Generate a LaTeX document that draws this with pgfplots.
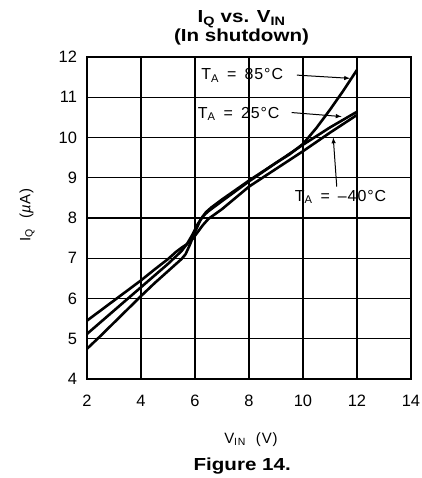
\documentclass[border=0pt]{standalone}
\usepackage{pgfplots}
\pgfplotsset{compat=1.18}
\usepackage{fontspec}
\setmainfont{Liberation Sans}
\newfontfamily\titlefont[FakeStretch=1.18]{Liberation Sans Bold}
\newfontfamily\annfont[LetterSpace=6]{Liberation Sans}
\begin{document}
\begin{tikzpicture}
\begin{axis}[
  scale only axis, width=324bp, height=322bp,
  xmin=2, xmax=14, ymin=4, ymax=12,
  xtick={2,4,...,14}, ytick={4,5,...,12},
  grid=major, major grid style={black, line width=1.2bp},
  axis line style={line width=1.3bp},
  major tick length=0pt,
  /pgf/number format/assume math mode=true,
  tick label style={font=\fontsize{16.5}{18}\selectfont},
  xticklabel style={yshift=-13bp},
  yticklabel style={xshift=-6.5bp},
  xlabel={V\textsubscript{IN}\ \ (V)},
  xlabel style={at={(axis description cs:0.506,0)}, anchor=base, yshift=-64bp, inner sep=0pt, font=\annfont\fontsize{15}{18}\selectfont},
  ylabel={I\textsubscript{Q}\ \ (\textit{µ}A)},
  ylabel style={at={(axis description cs:-0.185,0.509)}, anchor=center, inner sep=0pt, font=\annfont\fontsize{15}{18}\selectfont},
  every axis title shift=0pt,
  title={I\textsubscript{Q} vs. V\textsubscript{IN}\\(In shutdown)},
  title style={at={(axis description cs:0.477,1)}, anchor=south, yshift=12bp, inner sep=0pt, align=center, font=\titlefont\fontsize{17.5}{16}\selectfont},
  clip=false,
]
% T_A = 85 C
\addplot[black, line width=2.6bp] table {
2 4.75
2.5 5.07
3 5.40
3.5 5.73
4 6.06
4.5 6.38
5 6.68
5.3 6.86
5.5 6.98
5.65 7.10
5.8 7.32
6.0 7.65
6.2 7.95
6.4 8.14
6.6 8.26
7 8.46
8 8.93
9 9.37
9.5 9.58
10 9.84
10.5 10.24
11 10.69
11.5 11.17
12 11.68
};
% T_A = 25 C
\addplot[black, line width=2.6bp] table {
2 5.12
2.5 5.41
3 5.70
3.5 5.99
4 6.28
4.5 6.57
5 6.86
5.3 7.05
5.5 7.18
5.7 7.35
5.9 7.58
6.1 7.85
6.3 8.05
6.5 8.17
7 8.42
8 8.91
9 9.37
10 9.82
11 10.25
12 10.64
};
% T_A = -40 C
\addplot[black, line width=2.6bp] table {
2 5.45
2.5 5.70
3 5.95
3.5 6.20
4 6.45
4.5 6.72
5 6.98
5.3 7.16
5.5 7.26
5.7 7.35
5.9 7.47
6.1 7.65
6.3 7.83
6.5 7.98
7 8.22
8 8.78
9 9.22
10 9.66
11 10.12
12 10.56
};
\node[anchor=base, inner sep=0pt, font=\annfont\fontsize{16}{18}\selectfont] at (axis cs:7.75,11.43) {T\textsubscript{A}\ \,=\ \,85°C};
\draw[-latex, line width=1bp] (axis cs:9.77,11.55) -- (axis cs:11.74,11.47);
\node[anchor=base, inner sep=0pt, font=\annfont\fontsize{16}{18}\selectfont] at (axis cs:7.62,10.48) {T\textsubscript{A}\ \,=\ \,25°C};
\draw[-latex, line width=1bp] (axis cs:9.58,10.62) -- (axis cs:11.43,10.52);
\node[anchor=base, inner sep=0pt, font=\annfont\fontsize{16}{18}\selectfont] at (axis cs:11.39,8.42) {T\textsubscript{A}\ \,=\ \,–40°C};
\draw[-latex, line width=1bp] (axis cs:11.25,8.78) -- (axis cs:11.12,10.0);
\node[anchor=base, inner sep=0pt, font=\titlefont\fontsize{17.5}{18}\selectfont] at (axis description cs:0.479,0) [yshift=-91bp] {Figure 14.};
\end{axis}
\pgfresetboundingbox
\path (-87bp,-99bp) rectangle (335bp,379bp);
\end{tikzpicture}
\end{document}
